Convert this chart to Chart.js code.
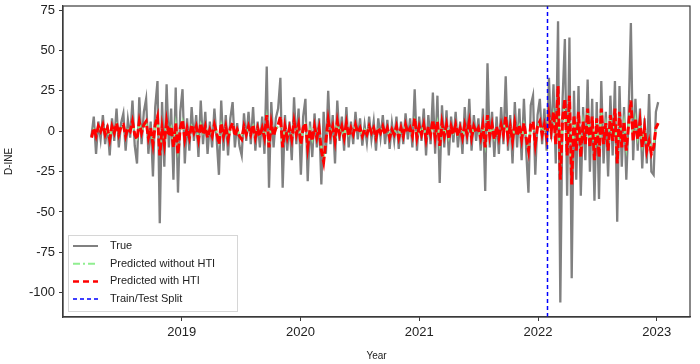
<!DOCTYPE html>
<html>
<head>
<meta charset="utf-8">
<script src="https://cdn.jsdelivr.net/npm/chart.js@4.4.0/dist/chart.umd.min.js"></script>
<style>
  html, body { margin: 0; padding: 0; background: #fff; }
  #wrap { width: 700px; height: 364px; }
</style>
</head>
<body>
<div id="wrap"><canvas id="dineChart" width="700" height="364"></canvas></div>
<script>
'use strict';

// weekly samples, first one late March 2018
var startYear = 2018.24;
var weekStep = 7 / 365.25;
var splitYear = 2022.08;

var yearTicks = [2019, 2020, 2021, 2022, 2023];
var valueTicks = [-100, -75, -50, -25, 0, 25, 50, 75];

var trueVals = [
    -3, 9, -14, 6, -5, 10, -8, 4, -15, 8,
    -6, 14, -10, 5, 11, -12, 7, -4, 19, -9,
    -20, 21, -8, 12, 20, -14, 6, -28, 15, 31,
    -57, 18, -22, 29, -10, 14, -30, 27, -38, 12,
    26, -20, 8, -12, 15, -6, 10, -16, 19, -8,
    12, -14, 6, -10, 14, -5, -27, 19, -12, 10,
    -15, 8, 18, -10, 5, -9, -15, 11, -6, 12,
    -8, 15, -12, 6, -10, 9, -14, 40, -35, 18,
    -10, 8, 14, 33, -35, 10, -12, 6, -18, 21,
    -8, 14, -27, 9, 20, -31, 6, -16, 11, -10,
    8, -33, 12, -14, 25, -8, 10, -20, 19, -6,
    9, -12, 15, -10, 6, -8, 12, -5, 8, -9,
    4, -7, 9, -5, 6, -12, 8, -4, 10, -8,
    7, -11, 5, -6, 9, -11, 6, -8, 11, -5,
    8, -10, 26, -12, 9, -6, 14, -15, 10, -8,
    24, -14, 22, -32, 16, -10, 13, -15, 9, -7,
    12, -10, 6, -14, 15, -8, 20, -12, 10, -6,
    8, -12, 14, -37, 42, -10, 12, -16, 9, -14,
    15, -8, 34, -12, 10, -20, 18, -10, 14, -18,
    20, -12, -38, 16, 22, -27, 10, 20, -8, 14,
    -12, 33, -5, 29, -20, 68, -106, 20, 57, -40,
    58, -91, 25, -30, 28, -40, 15, -18, 32, -25,
    20, -43, 18, -42, 31, -20, 12, -28, 22, -15,
    31, -56, 28, -22, 15, -30, 10, 67, -18, 20,
    -12, 14, -23, 8, -20, 23, -25, -27, 12, 18
];

var predNoHti = [
    -3, 1, -2, 2, 1, 3, -1, 1, -4, 2,
    0, 4, -1, 2, 3, -2, 1, 1, 5, -1,
    -4, 5, 0, 3, 5, -3, 1, -6, 3, 7,
    -12, 1, -6, 5, -2, 2, -8, 4, -11, 1,
    6, -4, 1, -3, 3, 0, 2, -4, 4, -1,
    2, -3, 1, -2, 3, 0, -6, 4, -2, 2,
    -4, 1, 4, -2, 1, -2, -4, 2, -1, 2,
    -1, 3, -3, 1, -2, 1, -3, 8, -8, 4,
    -2, 1, 3, 7, -8, 2, -3, 1, -4, 5,
    -1, 3, -6, 1, 4, -8, 1, -5, 2, -3,
    1, -10, -16, -5, 6, -1, 2, -5, 5, -1,
    2, -3, 4, -2, 1, -1, 3, 0, 1, -2,
    1, -1, 2, 0, 1, -3, 1, 0, 2, -1,
    1, -3, 1, -1, 2, -3, 1, -2, 3, 0,
    1, -2, 6, -3, 2, -1, 3, -4, 2, -1,
    6, -3, 5, -7, 4, -2, 3, -4, 2, -1,
    3, -2, 1, -3, 3, -1, 5, -3, 2, 0,
    1, -3, 3, -8, 8, -2, 3, -4, 2, -3,
    3, -1, 7, -3, 2, -5, 4, -2, 3, -4,
    4, -3, -10, 3, 5, -6, 2, 5, -1, 3,
    -3, 8, 1, 10, -6, 24, -26, 7, 17, -12,
    19, -28, 9, -10, 10, -13, 5, -6, 12, -8,
    8, -15, 7, -13, 12, -6, 4, -10, 8, -5,
    12, -17, 10, -8, 5, -10, 3, 16, -5, 7,
    -4, 5, -8, 2, -10, -5, -12, -8, 2, 4
];

var predHti = [
    -4, 2, -3, 3, 0, 4, -2, 2, -5, 3,
    -1, 5, -2, 3, 4, -3, 2, 0, 6, -2,
    -5, 6, -1, 4, 6, -4, 2, -8, 4, 9,
    -15, 2, -8, 6, -3, 3, -10, 5, -14, 2,
    7, -5, 2, -4, 4, -1, 3, -5, 5, -2,
    3, -4, 1, -3, 4, -1, -8, 5, -3, 3,
    -5, 2, 5, -3, 1, -3, -5, 3, -2, 3,
    -2, 4, -4, 2, -3, 2, -4, 10, -10, 5,
    -3, 2, 4, 9, -10, 3, -4, 2, -5, 6,
    -2, 4, -8, 2, 5, -10, 1, -6, 3, -4,
    2, -12, -19, -6, 7, -2, 3, -6, 6, -2,
    3, -4, 5, -3, 2, -2, 4, -1, 2, -3,
    1, -2, 3, -1, 2, -4, 2, -1, 3, -2,
    2, -4, 1, -2, 3, -4, 2, -3, 4, -1,
    2, -3, 8, -4, 3, -2, 4, -5, 3, -2,
    7, -4, 6, -9, 5, -3, 4, -5, 3, -2,
    4, -3, 2, -4, 4, -2, 6, -4, 3, -1,
    2, -4, 4, -10, 10, -3, 4, -5, 3, -4,
    4, -2, 9, -4, 3, -6, 5, -3, 4, -5,
    5, -4, -12, 4, 6, -8, 3, 6, -2, 4,
    -4, 10, 0, 12, -8, 28, -30, 8, 20, -15,
    22, -33, 10, -12, 12, -16, 6, -8, 14, -10,
    9, -18, 8, -16, 14, -8, 5, -12, 10, -6,
    14, -20, 12, -10, 6, -12, 4, 19, -6, 8,
    -5, 6, -10, 2, -12, -6, -14, -10, 2, 5
];

var yMin = -115, yMax = 77.5;
var xMin = 2018.0, xMax = 2023.28;

function toPoints(vals) {
    return vals.map(function (v, i) {
        return { x: startYear + i * weekStep, y: v };
    });
}

var axisColor = '#3a3a3a';
var fontFam = "'Liberation Sans', Arial, sans-serif";

// box frame + legend drawn inside the plot, matplotlib style
var frameAndLegend = {
    id: 'frameAndLegend',
    afterDatasetsDraw: function (chart) {
        var ctx = chart.ctx, a = chart.chartArea;
        ctx.save();
        ctx.strokeStyle = axisColor;
        ctx.lineWidth = 1.2;
        ctx.strokeRect(a.left, a.top, a.right - a.left, a.bottom - a.top);

        var bx = a.left + 5, by = a.bottom - 82, bw = 169, bh = 76;
        ctx.fillStyle = 'rgba(255,255,255,0.85)';
        ctx.strokeStyle = '#d6d6d6';
        ctx.lineWidth = 1;
        ctx.fillRect(bx, by, bw, bh);
        ctx.strokeRect(bx + 0.5, by + 0.5, bw, bh);

        var items = [
            { label: 'True', color: '#808080', dash: [], width: 2 },
            { label: 'Predicted without HTI', color: '#90ee90', dash: [7, 3, 2, 3], width: 2 },
            { label: 'Predicted with HTI', color: '#ff0000', dash: [6, 4], width: 2.5 },
            { label: 'Train/Test Split', color: '#0000ff', dash: [4, 3], width: 1.5 }
        ];
        ctx.font = '11px ' + fontFam;
        ctx.textBaseline = 'middle';
        items.forEach(function (it, k) {
            var yy = by + 11 + k * 17.7;
            ctx.beginPath();
            ctx.setLineDash(it.dash);
            ctx.strokeStyle = it.color;
            ctx.lineWidth = it.width;
            ctx.moveTo(bx + 5, yy);
            ctx.lineTo(bx + 30, yy);
            ctx.stroke();
            ctx.setLineDash([]);
            ctx.fillStyle = '#222';
            ctx.fillText(it.label, bx + 42, yy);
        });
        ctx.restore();
    }
};

var ctxEl = document.getElementById('dineChart');

var dineChart = new Chart(ctxEl, {
    type: 'line',
    data: {
        datasets: [
            {
                label: 'True',
                data: toPoints(trueVals),
                borderColor: '#808080',
                borderWidth: 2.3,
                pointRadius: 0,
                tension: 0,
                order: 4
            },
            {
                label: 'Predicted without HTI',
                data: toPoints(predNoHti),
                borderColor: '#90ee90',
                borderWidth: 2,
                borderDash: [7, 3, 2, 3],
                pointRadius: 0,
                tension: 0,
                order: 3
            },
            {
                label: 'Predicted with HTI',
                data: toPoints(predHti),
                borderColor: '#ff0000',
                borderWidth: 3,
                borderDash: [8, 3],
                pointRadius: 0,
                tension: 0,
                order: 2
            },
            {
                label: 'Train/Test Split',
                data: [{ x: splitYear, y: yMin }, { x: splitYear, y: yMax }],
                borderColor: '#0000ff',
                borderWidth: 1.5,
                borderDash: [4, 3],
                pointRadius: 0,
                order: 1
            }
        ]
    },
    options: {
        responsive: false,
        animation: false,
        layout: { padding: { top: 0, right: 10, left: 3, bottom: 0 } },
        plugins: {
            legend: { display: false },
            tooltip: { enabled: false }
        },
        scales: {
            x: {
                type: 'linear',
                min: xMin,
                max: xMax,
                afterBuildTicks: function (scale) {
                    scale.ticks = yearTicks.map(function (v) { return { value: v }; });
                },
                afterFit: function (scale) { scale.height = 47; },
                ticks: {
                    color: '#222',
                    font: { family: fontFam, size: 13 },
                    padding: 4,
                    maxRotation: 0,
                    callback: function (v) { return String(v); }
                },
                grid: {
                    drawOnChartArea: false,
                    drawTicks: true,
                    tickLength: 4,
                    color: axisColor
                },
                border: { display: true, color: axisColor, width: 1.2 },
                title: {
                    display: true,
                    text: 'Year',
                    color: '#222',
                    font: { family: fontFam, size: 10 },
                    padding: { top: 0, bottom: 2 }
                }
            },
            y: {
                type: 'linear',
                min: yMin,
                max: yMax,
                afterBuildTicks: function (scale) {
                    scale.ticks = valueTicks.map(function (v) { return { value: v }; });
                },
                afterFit: function (scale) {
                    scale.width = 60;
                    scale.paddingTop = 6;
                },
                ticks: {
                    color: '#222',
                    font: { family: fontFam, size: 13, lineHeight: 0.5 },
                    padding: 4
                },
                grid: {
                    drawOnChartArea: false,
                    drawTicks: true,
                    tickLength: 4,
                    color: axisColor
                },
                border: { display: true, color: axisColor, width: 1.2 },
                title: {
                    display: true,
                    text: 'D-INE',
                    color: '#222',
                    font: { family: fontFam, size: 10 },
                    padding: { top: 0, bottom: 4 }
                }
            }
        }
    },
    plugins: [frameAndLegend]
});
</script>
</body>
</html>
